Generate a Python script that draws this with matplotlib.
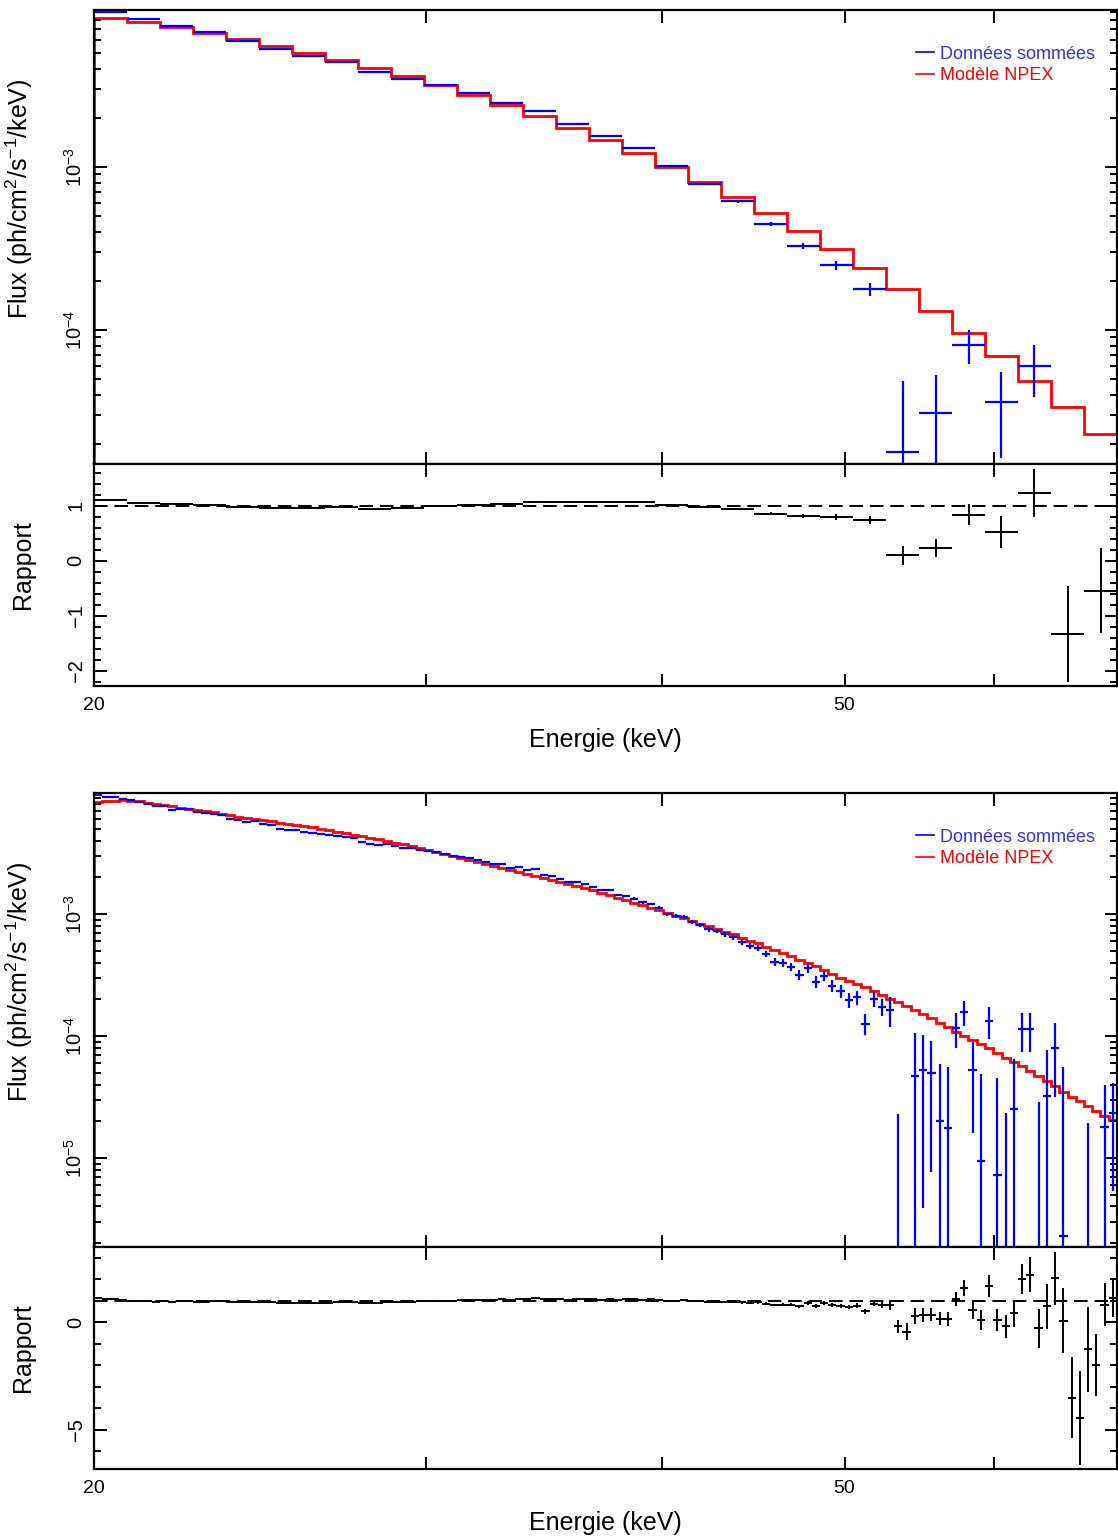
#!/usr/bin/env python3

import numpy as np
import matplotlib.pyplot as plt
from matplotlib.ticker import FixedLocator, FixedFormatter, MultipleLocator, NullLocator, LogLocator

plt.rcParams["font.family"] = ["Liberation Sans", "DejaVu Sans"]
plt.rcParams["mathtext.fontset"] = "custom"
plt.rcParams["mathtext.rm"] = "Liberation Sans"
plt.rcParams["mathtext.it"] = "Liberation Sans:italic"

FLUX_UNIT = 1e-3  # flux lists below are in units of 1e-3 ph/cm2/s/keV

# Energy grid (keV) of the coarse spectrum
energy_edges = [20.00, 20.82, 21.68, 22.57, 23.50, 24.46, 25.47, 26.52, 27.61, 28.74,
                29.92, 31.15, 32.43, 33.77, 35.16, 36.60, 38.10, 39.67, 41.30, 43.00,
                44.77, 46.61, 48.52, 50.52, 52.60, 54.76, 57.01, 59.35, 61.79, 64.33,
                66.98, 69.73]

# --- spectrum A (coarse binning)
data_a = [8.98, 8.09, 7.36, 6.73, 5.90, 5.30, 4.80, 4.39, 3.84, 3.47,
          3.18, 2.83, 2.48, 2.21, 1.84, 1.56, 1.30, 1.01, 0.786, 0.618,
          0.447, 0.328, 0.249, 0.177, 0.0177, 0.0310, 0.0809, 0.0358, 0.0596, -0.0447,
          -0.0125]
err_a = [0.09, 0.08, 0.07, 0.065, 0.058, 0.052, 0.047, 0.043, 0.038, 0.035,
         0.032, 0.029, 0.026, 0.024, 0.021, 0.019, 0.017, 0.015, 0.014, 0.013,
         0.012, 0.013, 0.015, 0.016, 0.031, 0.0215, 0.019, 0.0194, 0.021, 0.0292,
         0.0176]
model_a = [8.17, 7.72, 7.19, 6.61, 6.07, 5.55, 5.02, 4.53, 4.06, 3.63,
           3.20, 2.78, 2.41, 2.06, 1.73, 1.47, 1.22, 1.00, 0.807, 0.655,
           0.522, 0.405, 0.312, 0.239, 0.179, 0.131, 0.0962, 0.0686, 0.0482, 0.0336,
           0.0228]

# --- spectrum B (each coarse bin split in 4)
data_b = [9.41, 9.12, 9.12, 8.85, 8.57, 8.30, 7.95, 7.65, 7.75, 7.10,
          7.33, 7.33, 6.88, 6.75, 6.67, 6.46, 6.07, 5.96, 5.69, 5.80,
          5.52, 5.35, 5.03, 4.93, 4.87, 4.75, 4.63, 4.52, 4.43, 4.37,
          4.29, 4.17, 3.91, 3.79, 3.72, 3.79, 3.62, 3.51, 3.45, 3.38,
          3.30, 3.24, 3.10, 2.98, 2.94, 2.86, 2.77, 2.68, 2.57, 2.57,
          2.37, 2.41, 2.29, 2.33, 2.11, 2.05, 1.95, 1.84, 1.84, 1.76,
          1.67, 1.59, 1.57, 1.43, 1.40, 1.34, 1.25, 1.21, 1.13, 1.00,
          0.963, 0.950, 0.860, 0.813, 0.750, 0.726, 0.686, 0.645, 0.593, 0.550,
          0.530, 0.471, 0.407, 0.395, 0.370, 0.317, 0.359, 0.279, 0.311, 0.258,
          0.234, 0.198, 0.208, 0.126, 0.200, 0.174, 0.164, -0.036, -0.078, 0.0466,
          0.0529, 0.0497, 0.0200, 0.0175, 0.117, 0.158, 0.0529, 0.0094, 0.134, 0.0073,
          -0.0126, 0.0252, 0.1145, 0.1145, -0.0131, 0.0324, 0.0796, 0.0023, -0.112, -0.130,
          -0.0335, -0.0484, 0.0178, 0.0234]
err_b = [0.14, 0.13, 0.13, 0.12, 0.12, 0.11, 0.11, 0.10, 0.10, 0.10,
         0.095, 0.09, 0.09, 0.088, 0.085, 0.083, 0.08, 0.078, 0.075, 0.073,
         0.07, 0.068, 0.066, 0.064, 0.062, 0.06, 0.058, 0.056, 0.055, 0.054,
         0.052, 0.05, 0.049, 0.048, 0.047, 0.046, 0.045, 0.044, 0.043, 0.042,
         0.041, 0.04, 0.039, 0.038, 0.037, 0.036, 0.035, 0.034, 0.033, 0.033,
         0.032, 0.031, 0.031, 0.03, 0.03, 0.03, 0.03, 0.03, 0.03, 0.03,
         0.03, 0.03, 0.03, 0.03, 0.03, 0.03, 0.03, 0.03, 0.03, 0.03,
         0.032, 0.032, 0.032, 0.032, 0.032, 0.032, 0.032, 0.032, 0.032, 0.032,
         0.03, 0.03, 0.03, 0.03, 0.03, 0.03, 0.03, 0.03, 0.03, 0.03,
         0.028, 0.028, 0.028, 0.025, 0.028, 0.028, 0.046, 0.059, 0.07, 0.060,
         0.049, 0.042, 0.039, 0.038, 0.037, 0.037, 0.037, 0.039, 0.039, 0.038,
         0.036, 0.039, 0.040, 0.041, 0.042, 0.045, 0.048, 0.053, 0.060, 0.064,
         0.053, 0.035, 0.022, 0.018]
model_b = [8.33, 8.41, 8.52, 8.57, 8.49, 8.41, 8.17, 8.02, 7.87, 7.65,
           7.48, 7.30, 7.17, 6.99, 6.81, 6.61, 6.44, 6.28, 6.13, 5.99,
           5.88, 5.75, 5.61, 5.49, 5.39, 5.27, 5.13, 5.00, 4.87, 4.73,
           4.58, 4.47, 4.35, 4.23, 4.09, 3.96, 3.85, 3.74, 3.60, 3.47,
           3.34, 3.22, 3.10, 2.98, 2.87, 2.77, 2.66, 2.57, 2.47, 2.38,
           2.29, 2.21, 2.12, 2.05, 1.97, 1.90, 1.83, 1.76, 1.69, 1.63,
           1.57, 1.50, 1.43, 1.36, 1.30, 1.24, 1.18, 1.13, 1.08, 1.03,
           0.972, 0.927, 0.885, 0.836, 0.798, 0.761, 0.719, 0.680, 0.642, 0.607,
           0.574, 0.542, 0.512, 0.484, 0.453, 0.424, 0.397, 0.372, 0.345, 0.320,
           0.300, 0.283, 0.267, 0.250, 0.232, 0.215, 0.202, 0.189, 0.177, 0.164,
           0.152, 0.141, 0.128, 0.118, 0.108, 0.100, 0.0931, 0.0864, 0.0793, 0.0722,
           0.0663, 0.0615, 0.0565, 0.0514, 0.0468, 0.0430, 0.0388, 0.0349, 0.0318, 0.0292,
           0.0268, 0.0242, 0.0220, 0.0204]

legend_labels = ["Données sommées", "Modèle NPEX"]

# Initialize
edges_a = np.array(energy_edges)
edges_b = np.geomspace(edges_a[0], edges_a[-1], 4 * (len(edges_a) - 1) + 1)

spec_style = {"fmt": "none", "ecolor": "blue", "elinewidth": 1.6, "capsize": 0}
ratio_style = {"fmt": "none", "ecolor": "black", "elinewidth": 1.4, "capsize": 0}
model_style = {"color": "red", "linewidth": 2.0}

W, H = 1118, 1537
fig = plt.figure(figsize=(W / 100, H / 100), dpi=100)


def frac(x0, y0, x1, y1):
    return [x0 / W, 1 - y1 / H, (x1 - x0) / W, (y1 - y0) / H]


def style_axes(ax):
    for s in ax.spines.values():
        s.set_linewidth(1.6)
    ax.tick_params(which="both", direction="in", top=True, right=True, width=1.4)
    ax.tick_params(which="major", length=9)
    ax.tick_params(which="minor", length=5)
    ax.tick_params(axis="y", labelrotation=90, labelsize=14.5, pad=6)
    ax.tick_params(axis="x", labelsize=14, pad=8)
    ax.set_xscale("log")
    ax.set_xlim(edges_a[0], edges_a[-1])
    ax.xaxis.set_major_locator(FixedLocator([20, 30, 40, 50, 60]))
    ax.xaxis.set_major_formatter(FixedFormatter(["20", "", "", "50", ""]))
    ax.xaxis.set_minor_locator(NullLocator())
    for lab in ax.get_yticklabels():
        lab.set_va("center")


def draw_panel(top, edges, data, err, model, ylim_spec, ylim_ratio, ratio_major, ratio_minor):
    data = np.array(data) * FLUX_UNIT
    err = np.array(err) * FLUX_UNIT
    model = np.array(model) * FLUX_UNIT
    xc = np.sqrt(edges[:-1] * edges[1:])
    xerr = [xc - edges[:-1], edges[1:] - xc]

    ax1 = fig.add_axes(frac(94, top, 1117, top + 454))
    ax2 = fig.add_axes(frac(94, top + 454, 1117, top + 676))

    # Spectrum
    ax1.set_yscale("log")
    ax1.errorbar(xc, data, yerr=err, xerr=xerr, **spec_style)
    ax1.stairs(model, edges, **model_style)
    ax1.set_ylim(*ylim_spec)
    style_axes(ax1)
    ax1.yaxis.set_minor_locator(LogLocator(base=10, subs=np.arange(2, 10)))
    ax1.tick_params(axis="x", labelbottom=False)
    ax1.set_ylabel(r"Flux (ph/cm$^2$/s$^{-1}$/keV)", fontsize=18)
    ax1.yaxis.set_label_coords(-0.058, 0.585)
    leg_data = plt.Line2D([], [], color="blue", linewidth=1.2)
    leg_model = plt.Line2D([], [], color="red", linewidth=1.2)
    ax1.legend([leg_data, leg_model], legend_labels, loc="upper right",
               bbox_to_anchor=(0.987, 0.941), frameon=False, fontsize=13,
               handlelength=1.0, handletextpad=0.3, labelspacing=0.25,
               borderpad=0, labelcolor=["#3333dd", "red"])

    # Ratio
    ratio = data / model
    ratio_err = err / model
    ax2.errorbar(xc, ratio, yerr=ratio_err, xerr=xerr, **ratio_style)
    ax2.axhline(1, color="black", linewidth=1.4, linestyle=(0, (7, 3.5)))
    ax2.set_ylim(*ylim_ratio)
    style_axes(ax2)
    ax2.yaxis.set_major_locator(FixedLocator(ratio_major))
    ax2.yaxis.set_minor_locator(MultipleLocator(ratio_minor))
    ax2.set_ylabel("Rapport", fontsize=18)
    ax2.yaxis.set_label_coords(-0.058, 0.546)
    ax2.set_xlabel("Energie (keV)", fontsize=18, labelpad=10)
    return ax1, ax2


draw_panel(10, edges_a, data_a, err_a, model_a,
           (1.5e-5, 9.2e-3), (-2.28, 1.76), [-2, -1, 0, 1], 0.2)
draw_panel(793, edges_b, data_b, err_b, model_b,
           (1.86e-6, 9.84e-3), (-6.84, 3.51), [-5, 0], 1)

fig.savefig("out.png", dpi=100)
plt.close()
